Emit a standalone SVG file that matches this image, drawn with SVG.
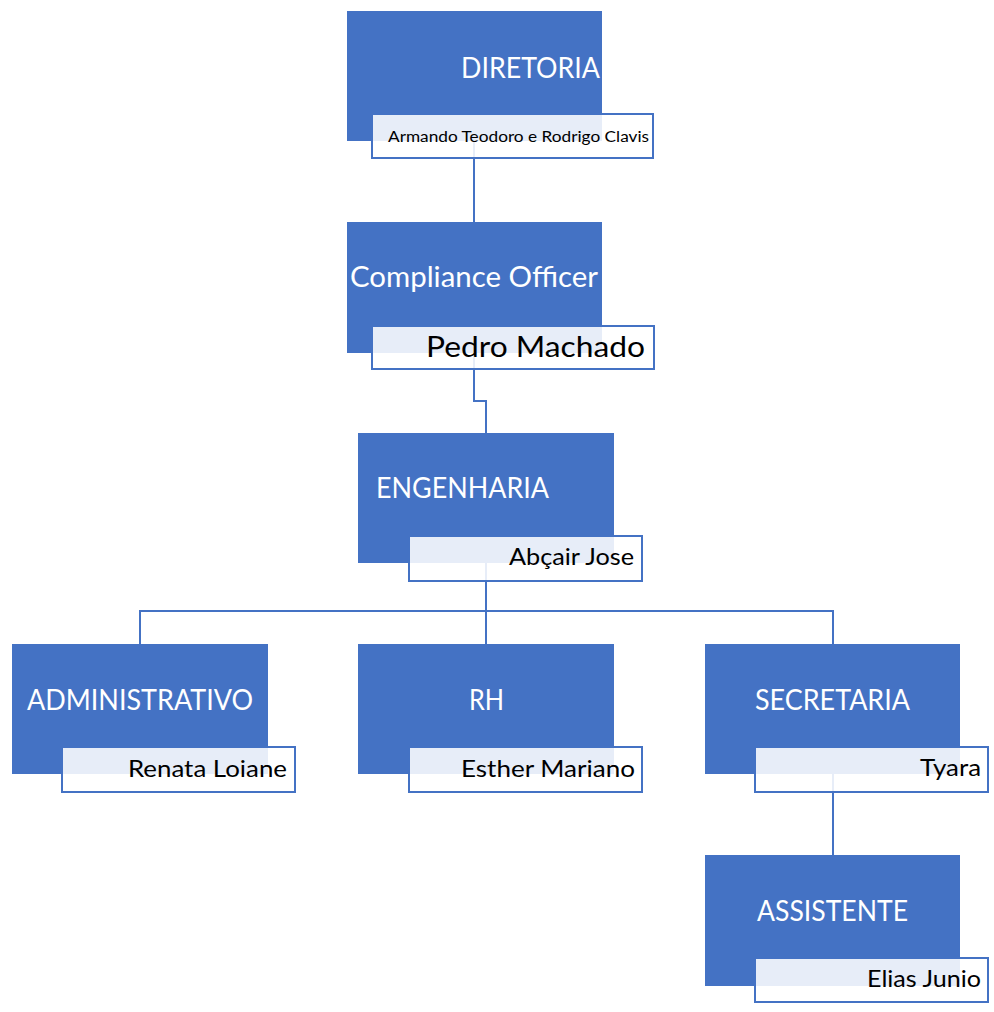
<svg xmlns="http://www.w3.org/2000/svg" width="994" height="1012" viewBox="0 0 994 1012">
<style>
.box{fill:#4472C4}
.name{fill:#FFFFFF;fill-opacity:0.87;stroke:#4472C4;stroke-width:2}
.conn{fill:none;stroke:#4472C4;stroke-width:2}
.t{font-family:Lato,"Liberation Sans",sans-serif;fill:#FFFFFF;font-size:28px}
.n{font-family:Lato,"Liberation Sans",sans-serif;fill:#000000;font-size:24px}
</style>
<rect width="994" height="1012" fill="#FFFFFF"/>
<g id="connectors">
<path class="conn" d="M474,141 V222"/>
<path class="conn" d="M474,353 V401 H486 V433"/>
<path class="conn" d="M486,563 V644"/>
<path class="conn" d="M140,644 V611 H833 V644"/>
<path class="conn" d="M833,774 V855"/>
</g>
<g id="diretoria">
<rect class="box" x="347" y="11" width="255" height="130"/>
<text class="t" x="461" y="78" textLength="139" lengthAdjust="spacingAndGlyphs">DIRETORIA</text>
<rect class="name" x="372" y="114" width="281" height="44"/>
<text class="n" x="388" y="142" style="font-size:15.5px" textLength="261" lengthAdjust="spacingAndGlyphs">Armando Teodoro e Rodrigo Clavis</text>
</g>
<g id="compliance">
<rect class="box" x="347" y="222" width="255" height="131"/>
<text class="t" x="350" y="287" textLength="248" lengthAdjust="spacingAndGlyphs">Compliance Officer</text>
<rect class="name" x="372" y="326" width="282" height="43"/>
<text class="n" x="426" y="357" style="font-size:29px" textLength="219" lengthAdjust="spacingAndGlyphs">Pedro Machado</text>
</g>
<g id="engenharia">
<rect class="box" x="358" y="433" width="256" height="130"/>
<text class="t" x="376" y="498" textLength="173" lengthAdjust="spacingAndGlyphs">ENGENHARIA</text>
<rect class="name" x="409" y="536" width="233" height="45"/>
<text class="n" x="509" y="565" textLength="125" lengthAdjust="spacingAndGlyphs">Abçair Jose</text>
</g>
<g id="administrativo">
<rect class="box" x="12" y="644" width="256" height="130"/>
<text class="t" x="27" y="710" textLength="226" lengthAdjust="spacingAndGlyphs">ADMINISTRATIVO</text>
<rect class="name" x="62" y="747" width="233" height="45"/>
<text class="n" x="128" y="777" textLength="159" lengthAdjust="spacingAndGlyphs">Renata Loiane</text>
</g>
<g id="rh">
<rect class="box" x="358" y="644" width="256" height="130"/>
<text class="t" x="469" y="710" textLength="35" lengthAdjust="spacingAndGlyphs">RH</text>
<rect class="name" x="409" y="747" width="233" height="45"/>
<text class="n" x="461" y="777" textLength="174" lengthAdjust="spacingAndGlyphs">Esther Mariano</text>
</g>
<g id="secretaria">
<rect class="box" x="705" y="644" width="255" height="130"/>
<text class="t" x="755" y="710" textLength="155" lengthAdjust="spacingAndGlyphs">SECRETARIA</text>
<rect class="name" x="755" y="747" width="233" height="45"/>
<text class="n" x="920" y="776" textLength="61" lengthAdjust="spacingAndGlyphs">Tyara</text>
</g>
<g id="assistente">
<rect class="box" x="705" y="855" width="255" height="131"/>
<text class="t" x="757" y="921" textLength="151" lengthAdjust="spacingAndGlyphs">ASSISTENTE</text>
<rect class="name" x="755" y="958" width="233" height="44"/>
<text class="n" x="867" y="987" textLength="114" lengthAdjust="spacingAndGlyphs">Elias Junio</text>
</g>
</svg>
